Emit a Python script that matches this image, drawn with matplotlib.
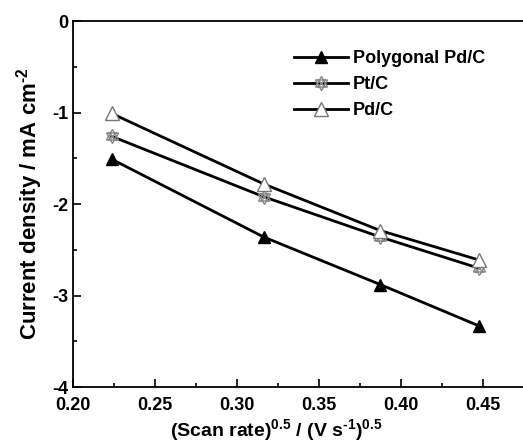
import numpy as np
import matplotlib
matplotlib.use("Agg")
import matplotlib.pyplot as plt
from matplotlib.path import Path
from matplotlib.ticker import MultipleLocator

# Data
scan_rate_sqrt = [0.2236, 0.3162, 0.3873, 0.4472]
polygonal_pdc = [-1.51, -2.36, -2.88, -3.33]
pt_c = [-1.26, -1.92, -2.36, -2.70]
pd_c = [-1.01, -1.78, -2.29, -2.61]

series_labels = ["Polygonal Pd/C", "Pt/C", "Pd/C"]
x_ticks = [0.20, 0.25, 0.30, 0.35, 0.40, 0.45]
y_ticks = [0, -1, -2, -3, -4]

plt.rcParams['font.family'] = ['Liberation Sans', 'DejaVu Sans']
plt.rcParams['font.weight'] = 'bold'
plt.rcParams['axes.unicode_minus'] = False
plt.rcParams['mathtext.fontset'] = 'custom'
plt.rcParams['mathtext.rm'] = 'Liberation Sans:bold'
plt.rcParams['mathtext.bf'] = 'Liberation Sans:bold'
plt.rcParams['mathtext.it'] = 'Liberation Sans:bold'

# star-like marker for Pt/C: two overlapping triangles plus a cross
a = 1.0
up = [(0, a), (-0.866 * a, -0.5 * a), (0.866 * a, -0.5 * a), (0, a)]
dn = [(0, -a), (-0.866 * a, 0.5 * a), (0.866 * a, 0.5 * a), (0, -a)]
verts = up + dn + [(-0.6, 0.6), (0.6, -0.6), (-0.6, -0.6), (0.6, 0.6)]
codes = ([Path.MOVETO] + [Path.LINETO] * 3) * 2 + [Path.MOVETO, Path.LINETO] * 2
star_marker = Path(verts, codes)

fig = plt.figure(figsize=(5.23, 4.43), dpi=100)
ax = fig.add_axes([0.1396, 0.1264, 0.941, 0.826])

ax.plot(scan_rate_sqrt, polygonal_pdc, color='black', lw=2, marker='^',
        ms=8, mfc='black', mec='black', label=series_labels[0])
ax.plot(scan_rate_sqrt, pt_c, color='black', lw=2, marker=star_marker,
        ms=10, mfc='none', mec='#888888', mew=1, label=series_labels[1])
ax.plot(scan_rate_sqrt, pd_c, color='black', lw=2, marker='^',
        ms=10, mfc='white', mec='#777777', mew=1, label=series_labels[2])

ax.set_xlim(0.20, 0.50)
ax.set_ylim(-4, 0)
ax.set_xticks(x_ticks)
ax.set_xticklabels([f"{t:.2f}" for t in x_ticks])
ax.set_yticks(y_ticks)
ax.set_yticklabels([f"{t:d}" for t in y_ticks])
ax.xaxis.set_minor_locator(MultipleLocator(0.025))
ax.yaxis.set_minor_locator(MultipleLocator(0.5))
ax.tick_params(which='both', direction='in', width=1.2)
ax.tick_params(which='major', length=6, labelsize=13)
ax.tick_params(axis='x', which='major', pad=7)
ax.tick_params(which='minor', length=3)
for s in ax.spines.values():
    s.set_linewidth(1.3)

ax.set_xlabel(r"(Scan rate)$^{\text{0.5}}$ / (V s$^{\text{-1}}$)$^{\text{0.5}}$",
              fontsize=14, fontweight='bold')
ax.xaxis.set_label_coords(0.413, -0.082)
ax.set_ylabel(r"Current density / mA cm$^{\text{-2}}$", fontsize=16,
              fontweight='bold', labelpad=5)

ax.legend(loc='upper left', bbox_to_anchor=(0.415, 0.965), frameon=False,
          handlelength=3.0, handletextpad=0.3, labelspacing=0.5,
          prop={'weight': 'bold', 'size': 13})

fig.savefig("out.png", dpi=100)
